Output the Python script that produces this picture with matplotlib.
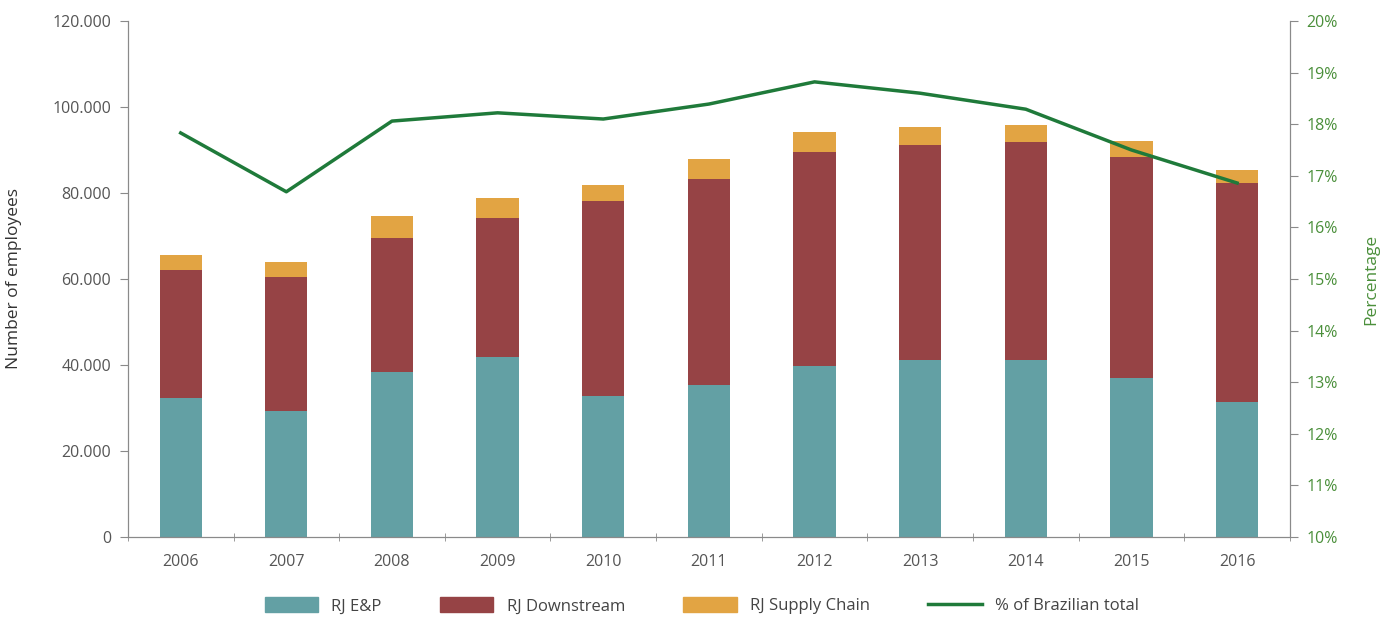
import matplotlib
matplotlib.use("Agg")
import matplotlib.pyplot as plt
from matplotlib.ticker import FuncFormatter, FixedLocator
from matplotlib.patches import Patch
from matplotlib.lines import Line2D
import numpy as np

plt.rcParams['font.family'] = ['Open Sans', 'DejaVu Sans']

years = ["2006", "2007", "2008", "2009", "2010", "2011", "2012", "2013", "2014", "2015", "2016"]
ep = [32300, 29300, 38400, 41900, 32800, 35300, 39800, 41200, 41200, 37000, 31400]
downstream = [29800, 31200, 31100, 32300, 45300, 48000, 49700, 50000, 50700, 51400, 50900]
supply = [3500, 3500, 5200, 4600, 3800, 4600, 4700, 4100, 3900, 3700, 3000]
pct = [17.83, 16.69, 18.06, 18.22, 18.10, 18.39, 18.82, 18.60, 18.29, 17.50, 16.86]

c_ep = "#63a0a4"
c_ds = "#964345"
c_sc = "#e2a443"
c_line = "#1f7a3a"
grey = "#555555"
spine = "#8a8a8a"

fig = plt.figure(figsize=(13.9, 6.17), dpi=100)
ax = fig.add_axes([0.092, 0.1297, 0.836, 0.8363])
x = np.arange(len(years))
w = 0.4
ax.bar(x, ep, w, color=c_ep, zorder=2)
ax.bar(x, downstream, w, bottom=ep, color=c_ds, zorder=2)
bot2 = [a + b for a, b in zip(ep, downstream)]
ax.bar(x, supply, w, bottom=bot2, color=c_sc, zorder=2)

ax.set_xlim(-0.5, len(years) - 0.5)
ax.set_ylim(0, 120000)
ax.set_yticks(np.arange(0, 120001, 20000))
ax.yaxis.set_major_formatter(FuncFormatter(lambda v, p: f"{int(v):,}".replace(",", ".")))
ax.set_xticks(x)
ax.set_xticklabels(years)
ax.xaxis.set_minor_locator(FixedLocator(np.arange(-0.5, len(years), 1.0)))
ax.tick_params(axis='x', which='major', length=0, labelsize=11.5, colors=grey, pad=12)
ax.tick_params(axis='x', which='minor', length=6, direction='inout', color=spine)
ax.tick_params(axis='y', length=6, labelsize=11.5, colors=grey, color=spine, pad=6)
for s in ['top']:
    ax.spines[s].set_visible(False)
for s in ['left', 'bottom', 'right']:
    ax.spines[s].set_color(spine)
ax.set_ylabel("Number of employees", fontsize=12.5, color="#333333", labelpad=22)

ax2 = ax.twinx()
ax2.plot(x, pct, color=c_line, lw=2.5, zorder=3)
ax2.set_ylim(10, 20)
ax2.set_yticks(np.arange(10, 21, 1))
ax2.yaxis.set_major_formatter(FuncFormatter(lambda v, p: f"{int(round(v))}%"))
ax2.tick_params(axis='y', length=6, labelsize=11.5, colors="#4a8f3a", color=spine, pad=6)
ax2.spines['top'].set_visible(False)
for s in ['left', 'bottom', 'right']:
    ax2.spines[s].set_color(spine)
ax2.set_ylabel("Percentage", fontsize=12.5, color="#4a8f3a", labelpad=18)

handles = [Patch(color=c_ep), Patch(color=c_ds), Patch(color=c_sc),
           Line2D([0], [0], color=c_line, lw=2.5)]
labels = ["RJ E&P", "RJ Downstream", "RJ Supply Chain", "% of Brazilian total"]
fig.legend(handles, labels, loc='center', bbox_to_anchor=(0.505, 0.018), ncol=4,
           frameon=False, fontsize=12, handlelength=3.2, handleheight=1.0,
           columnspacing=3.5, labelcolor="#444444")

fig.savefig("out.png", dpi=100)
